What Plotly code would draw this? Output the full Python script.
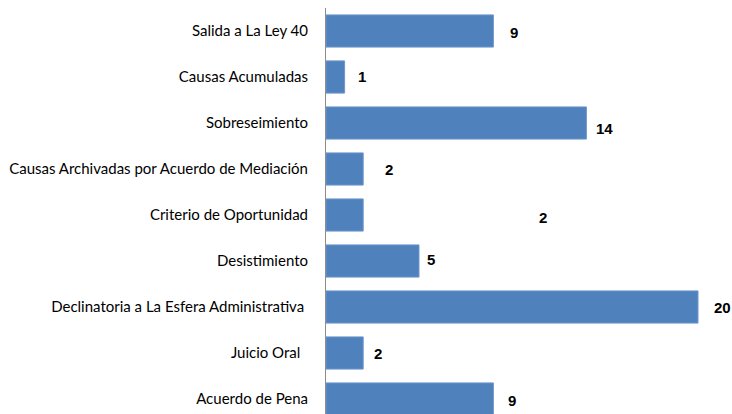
import plotly.graph_objects as go

categories = [
    "Salida a La Ley 40",
    "Causas Acumuladas",
    "Sobreseimiento",
    "Causas Archivadas por Acuerdo de Mediación",
    "Criterio de Oportunidad",
    "Desistimiento",
    "Declinatoria a La Esfera Administrativa ",
    "Juicio Oral  ",
    "Acuerdo de Pena",
]
values = [9, 1, 14, 2, 2, 5, 20, 2, 9]
value_labels = [str(v) for v in values]

# label offsets (pixels) as in the reference picture
label_xshift = [21, 17, 18, 26, 180, 12, 24, 15, 19]
label_yshift = [-1, 1, -5, 0, -2, 2, 0, 0, -1]

ticktext = [c.rstrip(" ") + "\u00a0" * (len(c) - len(c.rstrip(" "))) for c in categories]

fig = go.Figure()
fig.add_trace(go.Bar(
    x=values,
    y=list(range(len(categories))),
    orientation="h",
    marker=dict(color="#4f81bd", line=dict(color="#6f98cc", width=1)),
    hoverinfo="skip",
))

for i, (v, t) in enumerate(zip(values, value_labels)):
    fig.add_annotation(
        x=v, y=i, text="<b>" + t + "</b>", showarrow=False,
        xanchor="center", yanchor="middle",
        xshift=label_xshift[i], yshift=label_yshift[i],
        font=dict(family="Liberation Sans, Arial", size=15, color="#000000"),
        xref="x", yref="y",
    )

fig.update_layout(
    template="none",
    width=732, height=414,
    margin=dict(l=326, r=10, t=8, b=0, pad=0, autoexpand=False),
    paper_bgcolor="white", plot_bgcolor="white",
    showlegend=False,
    bargap=0.3,
    font=dict(family="Lato", size=15, color="#000000"),
)
fig.update_xaxes(range=[0, 21.29], visible=False, fixedrange=True, automargin=False)
fig.update_yaxes(
    range=[8.326, -0.5],
    tickmode="array",
    tickvals=list(range(len(categories))),
    ticktext=ticktext,
    showline=True, linecolor="#8c8c8c", linewidth=1,
    showgrid=False, zeroline=False, ticks="",
    ticklabelstandoff=14,
    tickfont=dict(family="Lato", size=15, color="#000000"),
    fixedrange=True, automargin=False,
)

fig.write_html(
    "out.html",
    config={"displayModeBar": False},
    post_script="document.body.style.margin='0';document.body.style.overflow='hidden';",
)
